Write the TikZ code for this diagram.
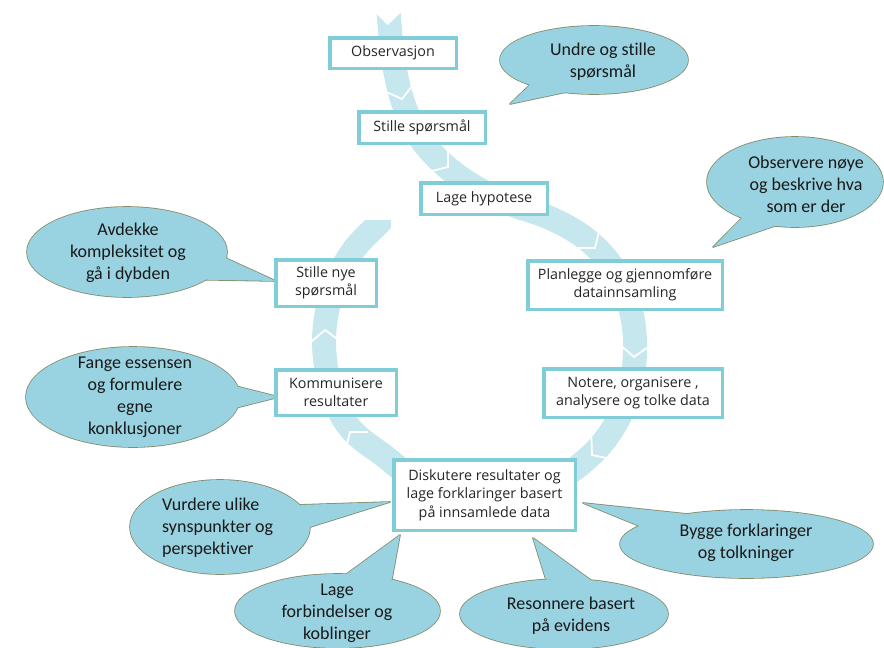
\documentclass[tikz,border=0pt]{standalone}
\usepackage{fontspec}
\setmainfont{Open Sans}
\newfontfamily\callfont[Ligatures=NoCommon]{Carlito}
\usetikzlibrary{calc}
\definecolor{bandc}{RGB}{198,231,238}
\definecolor{boxc}{RGB}{128,205,216}
\definecolor{callc}{RGB}{153,210,224}
\definecolor{callb}{RGB}{130,140,105}
\definecolor{txt}{RGB}{38,38,38}
\definecolor{ctxt}{RGB}{25,25,25}
\newcommand\callout[6]{%
  \path[callborder] #1 ellipse [x radius=#2, y radius=#3];
  \path[callborder] ($#1+(#4:#2 and #3)$) -- #6 -- ($#1+(#5:#2 and #3)$) -- cycle;
  \path[callfill] #1 ellipse [x radius=#2, y radius=#3];
  \path[callfill] ($#1+(#4:#2 and #3)$) -- #6 -- ($#1+(#5:#2 and #3)$) -- cycle;
}
\newcommand\chevron[3]{\draw[chev, shift={(#1,#2)}, rotate=-#3] (-11,-14) -- (0,0) -- (-11,14);}
\begin{document}
\begin{tikzpicture}[x=1pt,y=-1pt,
  band/.style={draw=bandc, line width=24pt},
  chev/.style={draw=white, line width=1.8pt, line join=miter},
  stepbox/.style={draw=boxc, line width=3.5pt, fill=white, align=center, text=txt,
    font=\fontsize{14.3}{18.3}\selectfont, inner sep=0pt},
  calltext/.style={align=center, text=ctxt, font=\callfont\fontsize{18}{22}\selectfont, inner sep=0pt},
  callborder/.style={draw=callb, line width=1.6pt, line join=round},
  callfill/.style={fill=callc},
]
\useasboundingbox (0,0) rectangle (884,648);
% cycle band
\draw[band] plot[smooth, tension=0.6] coordinates {(388,4) (391,40) (396,75) (404,105) (418,135) (440,161) (470,184) (508,203) (550,218) (585,238) (612,266) (628,300) (635,340) (631,385) (615,425) (588,458) (550,482) (485,492) (420,480) (383,455) (350,428) (331,390) (324,340) (332,292) (352,252) (380,222) (400,200)};
\fill[white] (360,0) rectangle (420,13);
\fill[white] (375,12.5) -- (401,12.5) -- (387.5,25) -- cycle;
\fill[white] (345,180) rectangle (420,220);
\fill[white] (391,219) rectangle (420,245);
\chevron{402}{99}{76}
\chevron{448}{167}{38}
\chevron{595}{248}{52}
\chevron{634}{357}{93}
\chevron{592}{455}{140}
\chevron{350}{432}{232}
\chevron{325}{330}{268}
% callouts
\callout{(594,60)}{94}{34}{133}{108}{(510,104)}
\callout{(795,182)}{88}{45}{127}{103}{(713,247)}
\callout{(127,252)}{100}{45}{8}{38}{(276,281)}
\callout{(133,397)}{107}{50}{-12}{12}{(279,397)}
\callout{(220,527)}{90}{47}{-28}{0}{(390,502)}
\callout{(337.5,611)}{102.5}{37}{-85}{-58}{(400,535)}
\callout{(564,614)}{104}{35}{-100}{-75}{(533,538)}
\callout{(746.5,544)}{126.5}{34}{-118}{-148}{(583,503)}
\node[calltext] (c1) at (603,62) {Undre og stille\\spørsmål};
\node[calltext] (c2) at (806,184) {Observere nøye\\og beskrive hva\\som er der};
\node[calltext] (c3) at (128,253) {Avdekke\\kompleksitet og\\gå i dybden};
\node[calltext] (c4) at (135,397) {Fange essensen\\og formulere\\egne\\konklusjoner};
\node[calltext, align=left, anchor=west] (c5) at (162,528) {Vurdere ulike\\synspunkter og\\perspektiver};
\node[calltext] (c6) at (337,613) {Lage\\forbindelser og\\koblinger};
\node[calltext] (c7) at (571,616) {Resonnere basert\\på evidens};
\node[calltext] (c8) at (746,543) {Bygge forklaringer\\og tolkninger};
% boxes
\node[stepbox, minimum width=126.5pt, minimum height=30.5pt] (b1) at (393,53) {Observasjon};
\node[stepbox, minimum width=126.5pt, minimum height=31.5pt] (b2) at (422,127.5) {Stille spørsmål};
\node[stepbox, minimum width=126.5pt, minimum height=31.5pt] (b3) at (484,198.5) {Lage hypotese};
\node[stepbox, minimum width=194.5pt, minimum height=48.5pt] (b4) at (625,285) {Planlegge og gjennomføre\\datainnsamling};
\node[stepbox, minimum width=178.5pt, minimum height=48.5pt] (b5) at (633,393) {Notere, organisere ,\\analysere og tolke data};
\node[stepbox, minimum width=181.5pt, minimum height=70.5pt] (b6) at (484.5,495) {Diskutere resultater og\\lage forklaringer basert\\på innsamlede data};
\node[stepbox, minimum width=120.5pt, minimum height=45.5pt] (b7) at (336,392.5) {Kommunisere\\resultater};
\node[stepbox, minimum width=100.5pt, minimum height=46.5pt] (b8) at (326,283) {Stille nye\\spørsmål};
\end{tikzpicture}
\end{document}
